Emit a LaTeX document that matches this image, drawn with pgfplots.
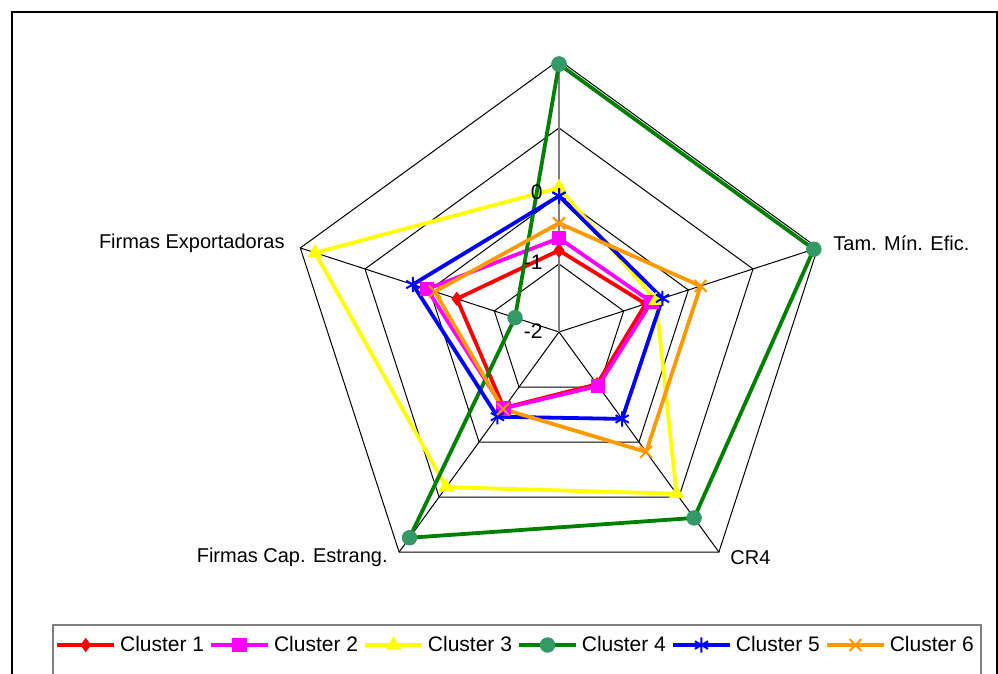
\documentclass[border=0pt]{standalone}
\usepackage{pgfplots}
\pgfplotsset{compat=1.18}
\usepackage{pgfplotstable}
\usepackage{fontspec}
\setmainfont{Liberation Sans}
\definecolor{cA}{RGB}{255,0,0}
\definecolor{cB}{RGB}{255,0,255}
\definecolor{cC}{RGB}{255,255,0}
\definecolor{cD}{RGB}{0,128,0}
\definecolor{cDm}{RGB}{51,153,102}
\definecolor{cE}{RGB}{0,0,255}
\definecolor{cF}{RGB}{255,153,0}

% values on each radar spoke (angle in degrees, clockwise from top)
\pgfplotstableread{
cat ang c1 c2 c3 c4 c5 c6
Top 90 -0.80 -0.62 0.12 1.94 0.00 -0.40
TME 18 -0.66 -0.57 -0.50 1.94 -0.40 0.19
CR4 -54 -1.05 -1.02 0.94 1.38 -0.42 0.18
FCE -126 -0.62 -0.61 0.82 1.74 -0.46 -0.60
FE -198 -0.42 0.04 1.77 -1.32 0.26 -0.08
Top2 -270 -0.80 -0.62 0.12 1.94 0.00 -0.40
}\radar

\begin{document}
\begin{tikzpicture}
\begin{axis}[
  x=34pt, y=34pt,
  xmin=-8.2206, xmax=6.4559, ymin=-5.01471, ymax=4.88235,
  hide axis, clip=false,
  font=\fontsize{10}{12}\selectfont,
  legend columns=6,
  legend style={draw=none, fill=none, at={(axis cs:-7.412,-4.603)}, anchor=west,
    inner xsep=0pt, inner ysep=0pt,
    font=\fontsize{10.5}{12}\selectfont,
    /tikz/every even column/.append style={column sep=0.6pt}},
  legend image code/.code={\draw[mark repeat=2,mark phase=2,#1] plot coordinates {(0cm,0cm) (0.5cm,0cm) (1cm,0cm)};},
]
% outer frame
\draw[black, line width=0.6pt] (axis cs:-8.044,4.706) rectangle (axis cs:6.441,-5.6);
% grid pentagons
\pgfplotsinvokeforeach{1,2,3,4}{
  \draw[black, line width=0.5pt] (axis cs:0,#1) -- (axis cs:{#1*cos(18)},{#1*sin(18)}) -- (axis cs:{#1*cos(-54)},{#1*sin(-54)}) -- (axis cs:{#1*cos(-126)},{#1*sin(-126)}) -- (axis cs:{#1*cos(162)},{#1*sin(162)}) -- cycle;
}
% spokes
\draw[black, line width=0.5pt] (axis cs:0,0) -- (axis cs:{4*cos(18)},{4*sin(18)});
\draw[black, line width=0.5pt] (axis cs:0,0) -- (axis cs:{4*cos(-54)},{4*sin(-54)});
\draw[black, line width=0.5pt] (axis cs:0,0) -- (axis cs:{4*cos(-126)},{4*sin(-126)});
\draw[black, line width=0.5pt] (axis cs:0,0) -- (axis cs:{4*cos(162)},{4*sin(162)});
\draw[gray, line width=0.9pt] (axis cs:0,0) -- (axis cs:0,4);

\addplot[cA, line width=1.9pt, line join=round, mark=diamond*, mark size=3.2pt, mark options={fill=cA, draw=cA, line width=0.5pt}]
  table[x expr={(\thisrow{c1}+2)*cos(\thisrow{ang})}, y expr={(\thisrow{c1}+2)*sin(\thisrow{ang})}] {\radar};
\addlegendentry{Cluster 1}
\addplot[cB, line width=1.9pt, line join=round, mark=square*, mark size=3.4pt, mark options={fill=cB, draw=cB, line width=0.5pt}]
  table[x expr={(\thisrow{c2}+2)*cos(\thisrow{ang})}, y expr={(\thisrow{c2}+2)*sin(\thisrow{ang})}] {\radar};
\addlegendentry{Cluster 2}
\addplot[cC, line width=1.9pt, line join=round, mark=triangle*, mark size=4pt, mark options={fill=cC, draw=cC, line width=0.5pt}]
  table[x expr={(\thisrow{c3}+2)*cos(\thisrow{ang})}, y expr={(\thisrow{c3}+2)*sin(\thisrow{ang})}] {\radar};
\addlegendentry{Cluster 3}
\addplot[cD, line width=1.9pt, line join=round, mark=*, mark size=3.6pt, mark options={fill=cDm, draw=cDm, line width=0.5pt}]
  table[x expr={(\thisrow{c4}+2)*cos(\thisrow{ang})}, y expr={(\thisrow{c4}+2)*sin(\thisrow{ang})}] {\radar};
\addlegendentry{Cluster 4}
\addplot[cE, line width=1.9pt, line join=round, mark=asterisk, mark size=3.8pt, mark options={draw=cE, line width=1pt}]
  table[x expr={(\thisrow{c5}+2)*cos(\thisrow{ang})}, y expr={(\thisrow{c5}+2)*sin(\thisrow{ang})}] {\radar};
\addlegendentry{Cluster 5}
\addplot[cF, line width=1.9pt, line join=round, mark=x, mark size=4.2pt, mark options={draw=cF, line width=1pt}]
  table[x expr={(\thisrow{c6}+2)*cos(\thisrow{ang})}, y expr={(\thisrow{c6}+2)*sin(\thisrow{ang})}] {\radar};
\addlegendentry{Cluster 6}

% value labels
\node[anchor=east, inner sep=0pt, font=\fontsize{10.5}{12}\selectfont] at (axis cs:-0.235,2.06) {0};
\node[anchor=east, inner sep=0pt, font=\fontsize{10.5}{12}\selectfont] at (axis cs:-0.235,1.03) {-1};
\node[anchor=east, inner sep=0pt, font=\fontsize{10.5}{12}\selectfont] at (axis cs:-0.235,0.01) {-2};
% category labels
\node[anchor=west, inner sep=0pt] at (axis cs:4.029,1.309) {Tam. Mín. Efic.};
\node[anchor=west, inner sep=0pt] at (axis cs:2.515,-3.324) {CR4};
\node[anchor=east, inner sep=0pt] at (axis cs:-2.515,-3.309) {Firmas Cap. Estrang.};
\node[anchor=east, inner sep=0pt] at (axis cs:-4.029,1.309) {Firmas Exportadoras};
% legend frame
\draw[gray, line width=0.6pt] (axis cs:-7.441,-4.309) rectangle (axis cs:6.206,-5.6);
\end{axis}
\pgfresetboundingbox
\path[use as bounding box] (current axis.south west) rectangle (current axis.north east);
\end{tikzpicture}
\end{document}
